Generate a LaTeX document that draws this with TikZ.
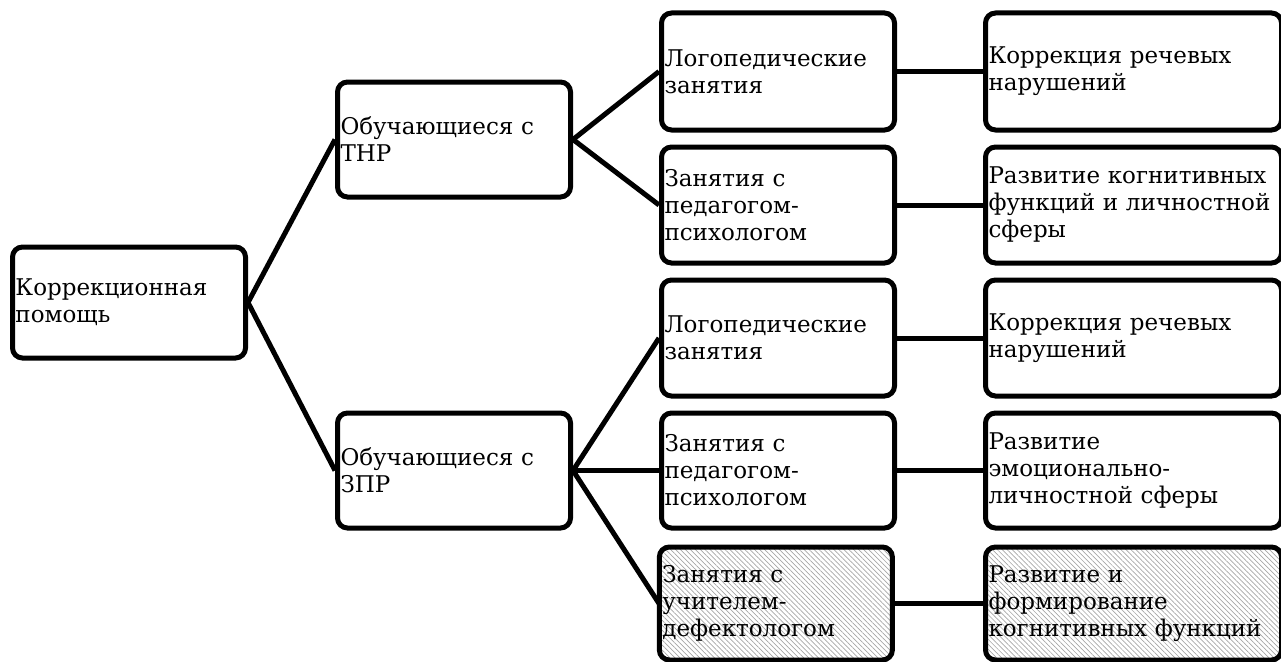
\documentclass[tikz,border=0pt]{standalone}
\usepackage{fontspec}
\setmainfont{DejaVu Serif}
\usetikzlibrary{patterns.meta}
\begin{document}
\begin{tikzpicture}[x=1pt,y=-1pt,
  box/.style={draw=black, line width=5pt, rounded corners=10pt,
    minimum height=#1, inner xsep=3pt, inner ysep=0pt, align=left,
    font=\fontsize{23}{27}\selectfont, anchor=west},
  wbox/.style={box=#1, text width=227pt},
  lbox/.style={box=#1, text width=290pt},
  hatch/.style={pattern={Lines[angle=-45,distance=3.5pt,line width=0.7pt]}, pattern color=black!35},
  link/.style={line width=5pt}]
\useasboundingbox (0,0) rectangle (1281,661);
\node[wbox=111] (root) at (10,302.5) {Коррекционная\\помощь};
\node[wbox=115] (thr) at (335,139.5) {Обучающиеся с\\ТНР};
\node[wbox=115] (zpr) at (335,470.5) {Обучающиеся с\\ЗПР};
\node[wbox=117] (a1) at (659,71.5) {Логопедические\\занятия};
\node[wbox=116] (a2) at (659,205) {Занятия с\\педагогом-\\психологом};
\node[wbox=116] (a3) at (659,338) {Логопедические\\занятия};
\node[wbox=115] (a4) at (659,470.5) {Занятия с\\педагогом-\\психологом};
\node[wbox=113, hatch] (a5) at (659,603.5) {Занятия с\\учителем-\\дефектологом};
\node[lbox=117] (b1) at (983,71.5) {Коррекция речевых\\нарушений};
\node[lbox=116] (b2) at (983,205) {Развитие когнитивных\\функций и личностной\\сферы};
\node[lbox=116] (b3) at (983,338) {Коррекция речевых\\нарушений};
\node[lbox=115] (b4) at (983,470.5) {Развитие\\эмоционально-\\личностной сферы};
\node[lbox=113, hatch] (b5) at (983,603.5) {Развитие и\\формирование\\когнитивных функций};
\draw[link] (root.east) -- (thr.west);
\draw[link] (root.east) -- (zpr.west);
\draw[link] (thr.east) -- (a1.west);
\draw[link] (thr.east) -- (a2.west);
\draw[link] (zpr.east) -- (a3.west);
\draw[link] (zpr.east) -- (a4.west);
\draw[link] (zpr.east) -- (a5.west);
\draw[link] (a1.east) -- (b1.west);
\draw[link] (a2.east) -- (b2.west);
\draw[link] (a3.east) -- (b3.west);
\draw[link] (a4.east) -- (b4.west);
\draw[link] (a5.east) -- (b5.west);
\end{tikzpicture}
\end{document}
